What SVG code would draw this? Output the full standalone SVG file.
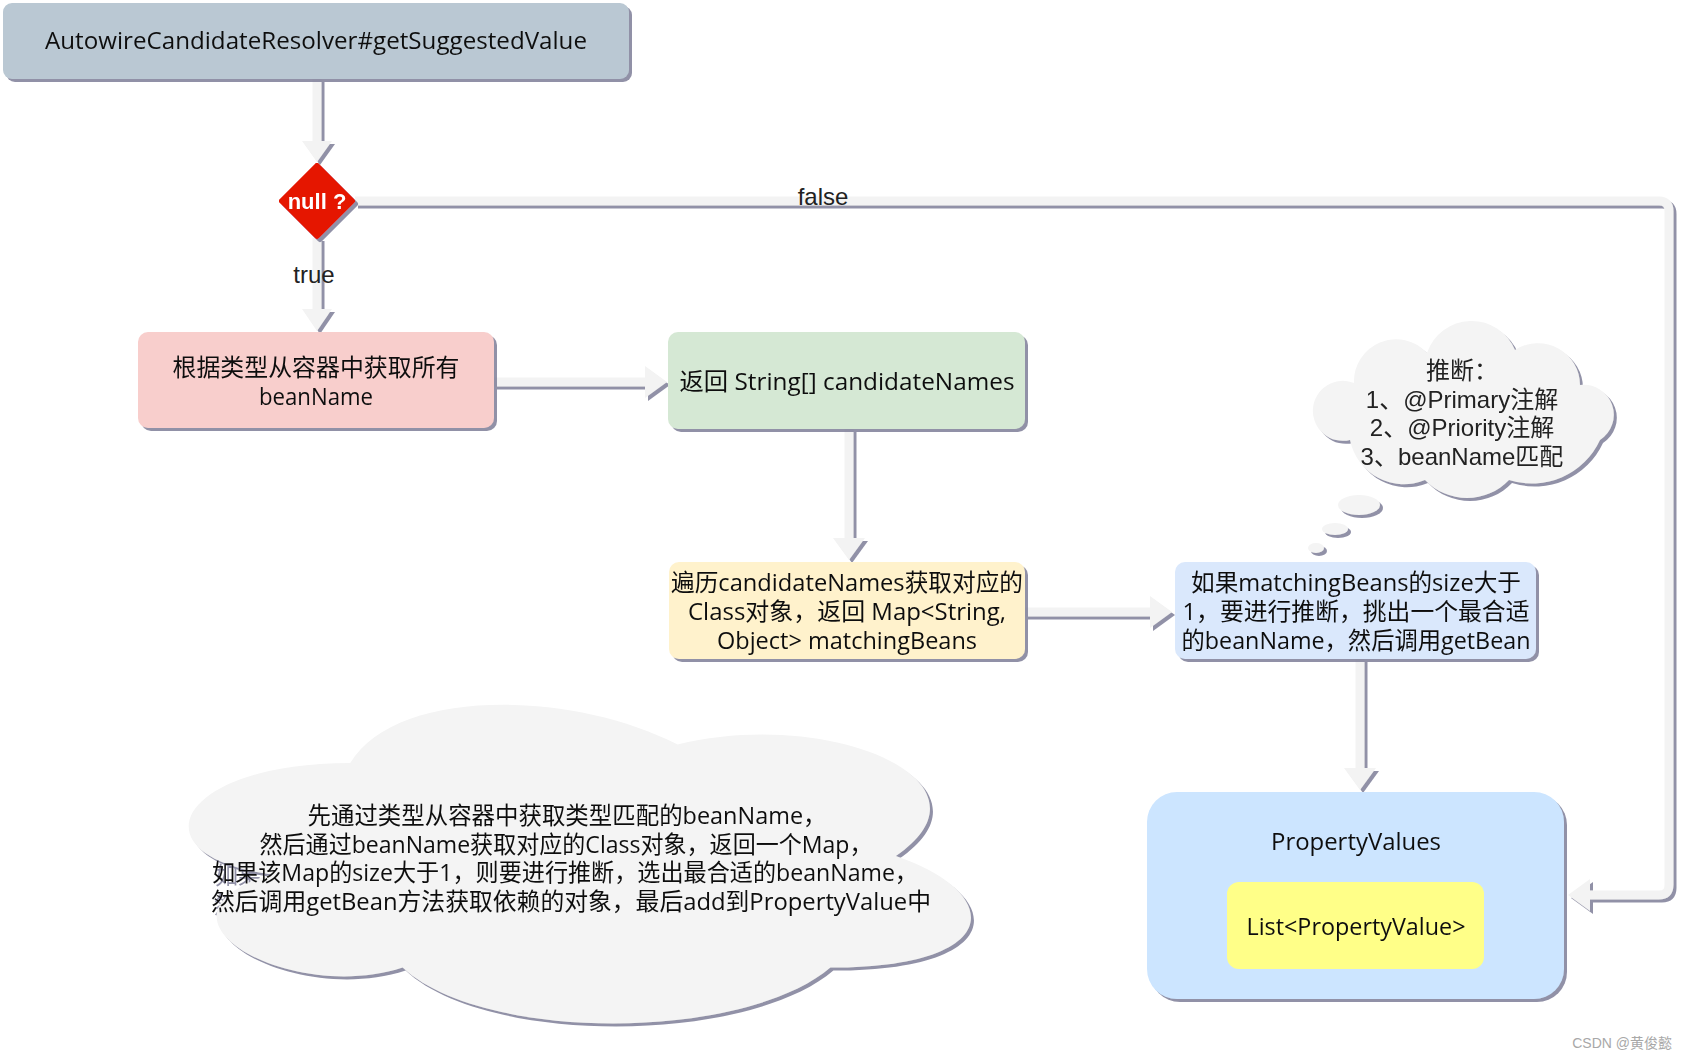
<svg xmlns="http://www.w3.org/2000/svg" width="1686" height="1061" viewBox="0 0 1686 1061">
<style>
.comic{font-family:"Open Sans","Noto Sans CJK SC",sans-serif;font-size:24px;fill:#111;text-anchor:middle}
.arial{font-family:"Liberation Sans","Noto Sans CJK SC",sans-serif;font-size:24px;fill:#222;text-anchor:middle}
.conn{fill:none;stroke:#f3f3f3;stroke-width:9}
.head{fill:#f3f3f3}
.cloud{fill:#f4f4f4}
</style>
<defs>
<filter id="sh" filterUnits="userSpaceOnUse" x="0" y="0" width="1686" height="1061">
<feDropShadow dx="3" dy="3" stdDeviation="0.6" flood-color="#7e7e98" flood-opacity="0.85"/>
</filter>
</defs>
<rect width="1686" height="1061" fill="#ffffff"/>

<g id="connectors" filter="url(#sh)">
<path class="conn" d="M317 79 V142"/>
<polygon class="head" points="302,141 332,141 317,162"/>
<path class="conn" d="M317 238 V310"/>
<polygon class="head" points="302,309 332,309 317,331"/>
<path class="conn" d="M494 382 H646"/>
<polygon class="head" points="645,366 645,398 667,382"/>
<path class="conn" d="M849 429 V539"/>
<polygon class="head" points="833,538 865,538 849,560"/>
<path class="conn" d="M1025 612 H1151"/>
<polygon class="head" points="1150,596 1150,628 1172,612"/>
<path class="conn" d="M1360 659 V769"/>
<polygon class="head" points="1344,768 1376,768 1360,790"/>
<path class="conn" d="M355 201 H1659 Q1669 201 1669 211 V885 Q1669 895 1659 895 H1589"/>
<polygon class="head" points="1590,879 1590,911 1568,895"/>
</g>
<g id="labels">
<text class="arial" x="823" y="205">false</text>
<text class="arial" x="314" y="283">true</text>
</g>

<g id="title" filter="url(#sh)">
<rect x="3" y="3" width="626" height="76" rx="9" fill="#bac8d3"/>
<text class="comic" x="316" y="49" textLength="542" lengthAdjust="spacingAndGlyphs">AutowireCandidateResolver#getSuggestedValue</text>
</g>

<g id="decision" filter="url(#sh)">
<polygon points="317,166 352,201 317,236 282,201" fill="#e51400" stroke="#e51400" stroke-width="6" stroke-linejoin="round"/>
<text x="317" y="209" font-family="Liberation Sans, sans-serif" font-size="22" font-weight="bold" fill="#ffffff" text-anchor="middle">null ?</text>
</g>

<g id="getNames" filter="url(#sh)">
<rect x="138" y="332" width="356" height="96" rx="10" fill="#f8cecc"/>
<text class="comic" x="316" y="376" textLength="287" lengthAdjust="spacingAndGlyphs">根据类型从容器中获取所有</text>
<text class="comic" x="316" y="405" textLength="114" lengthAdjust="spacingAndGlyphs">beanName</text>
</g>

<g id="candidateNames" filter="url(#sh)">
<rect x="668" y="332" width="357" height="97" rx="10" fill="#d5e8d4"/>
<text class="comic" x="847" y="390" textLength="335" lengthAdjust="spacingAndGlyphs">返回 String[] candidateNames</text>
</g>

<g id="matchingBeans" filter="url(#sh)">
<rect x="669" y="562" width="356" height="97" rx="10" fill="#fff2cc"/>
<text class="comic" x="847" y="591" textLength="352" lengthAdjust="spacingAndGlyphs">遍历candidateNames获取对应的</text>
<text class="comic" x="847" y="620" textLength="318" lengthAdjust="spacingAndGlyphs">Class对象，返回 Map&lt;String,</text>
<text class="comic" x="847" y="649" textLength="260" lengthAdjust="spacingAndGlyphs">Object&gt; matchingBeans</text>
</g>

<g id="determine" filter="url(#sh)">
<rect x="1175" y="562" width="361" height="97" rx="10" fill="#dae8fc"/>
<text class="comic" x="1356" y="591" textLength="330" lengthAdjust="spacingAndGlyphs">如果matchingBeans的size大于</text>
<text class="comic" x="1356" y="620" textLength="347" lengthAdjust="spacingAndGlyphs">1，要进行推断，挑出一个最合适</text>
<text class="comic" x="1356" y="649" textLength="349" lengthAdjust="spacingAndGlyphs">的beanName，然后调用getBean</text>
</g>

<g id="propertyValues" filter="url(#sh)">
<rect x="1147" y="792" width="417" height="207" rx="30" fill="#cce5ff"/>
<text class="comic" x="1356" y="850" textLength="170" lengthAdjust="spacingAndGlyphs">PropertyValues</text>
<rect x="1227" y="882" width="257" height="87" rx="12" fill="#ffff88"/>
<text class="comic" x="1356" y="935" textLength="219" lengthAdjust="spacingAndGlyphs">List&lt;PropertyValue&gt;</text>
</g>

<g id="thoughtCloud" filter="url(#sh)">
<path class="cloud" d="M1350 440 A30 30 0 1 1 1354 383 A42 42 0 0 1 1427 353 A47 47 0 0 1 1515 350 A42 42 0 0 1 1580 385 A30 30 0 0 1 1600 440 A75 75 0 0 1 1509 480 A58 58 0 0 1 1425 480 A55 55 0 0 1 1350 440 Z"/>
<ellipse class="cloud" cx="1359" cy="505" rx="21" ry="10"/>
<ellipse class="cloud" cx="1335" cy="529" rx="13" ry="6"/>
<ellipse class="cloud" cx="1316" cy="548" rx="8" ry="5"/>
<text class="arial" x="1462" y="379">推断：</text>
<text class="arial" x="1462" y="408">1、@Primary注解</text>
<text class="arial" x="1462" y="436">2、@Priority注解</text>
<text class="arial" x="1462" y="465">3、beanName匹配</text>
</g>

<g id="summaryCloud" filter="url(#sh)">
<path class="cloud" d="M350.25 763 C175.65 763 132 856 271.68 874.6 C132 915.52 289.14 1004.8 402.63 967.6 C481.2 1042 743.1 1042 830.4 967.6 C1005 967.6 1005 893.2 895.875 856 C1005 781.6 830.4 707.2 677.625 744.4 C568.5 688.6 393.9 688.6 350.25 763 Z"/>
<text class="comic" x="567" y="824" fill="#333" textLength="519" lengthAdjust="spacingAndGlyphs">先通过类型从容器中获取类型匹配的beanName，</text>
<text class="comic" x="566" y="853" textLength="613" lengthAdjust="spacingAndGlyphs">然后通过beanName获取对应的Class对象，返回一个Map，</text>
<text class="comic" x="565" y="881" textLength="706" lengthAdjust="spacingAndGlyphs">如果该Map的size大于1，则要进行推断，选出最合适的beanName，</text>
<text class="comic" x="571" y="910" textLength="720" lengthAdjust="spacingAndGlyphs">然后调用getBean方法获取依赖的对象，最后add到PropertyValue中</text>
</g>

<text x="1672" y="1048" font-family="Liberation Sans, Noto Sans CJK SC, sans-serif" font-size="14" fill="#a8a8a8" text-anchor="end">CSDN @黄俊懿</text>
</svg>
